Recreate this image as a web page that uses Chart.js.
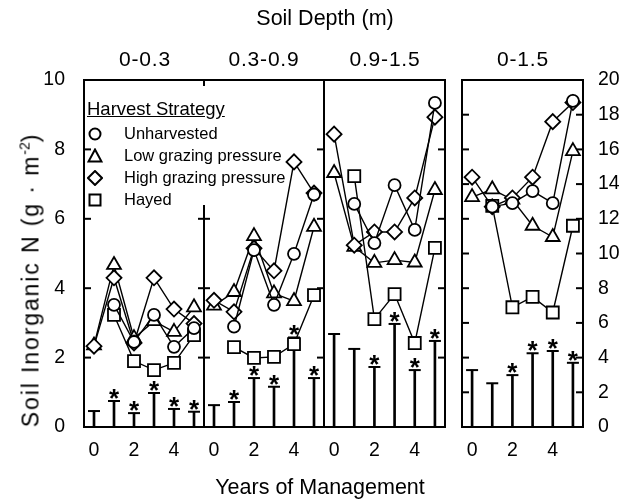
<!DOCTYPE html>
<html>
<head>
<meta charset="utf-8">
<script src="https://cdn.jsdelivr.net/npm/chart.js@4.4.1/dist/chart.umd.min.js"></script>
<style>
  body { margin: 0; background: #fff; }
  #wrap { position: relative; width: 619px; height: 501px; font-family: 'Liberation Sans', Arial, sans-serif; color: #000; }
  #wrap canvas { position: absolute; left: 0; top: 0; }
  .txt { position: absolute; white-space: nowrap; transform: translate(-50%, -50%); }
  .big { font-size: 21.5px; }
  .ttl { font-size: 21px; letter-spacing: 0.8px; }
  #ytitle { left: 31px; top: 280px; transform: translate(-50%, -50%) rotate(-90deg); font-size: 23px; letter-spacing: 1.9px; }
  #ytitle sup { font-size: 14px; vertical-align: 9px; line-height: 0; letter-spacing: 0; }
  #legend { position: absolute; left: 87px; top: 96px; width: 220px; white-space: nowrap; }
  #legend .head { font-size: 18.5px; text-decoration: underline; line-height: 26px; }
  #legend .row { position: relative; height: 22px; font-size: 16.5px; line-height: 22px; }
  #legend .row svg { position: absolute; left: 0; top: 4px; }
  #legend .row span { position: absolute; left: 37px; top: 0; white-space: nowrap; }
</style>
</head>
<body>
<div id="wrap">
  <canvas id="p0" width="619" height="501"></canvas>
  <canvas id="p1" width="619" height="501"></canvas>
  <canvas id="p2" width="619" height="501"></canvas>
  <canvas id="p3" width="619" height="501"></canvas>

  <div class="txt big" style="left:325px; top:18px;">Soil Depth (m)</div>
  <div class="txt ttl" style="left:145px; top:59px;">0-0.3</div>
  <div class="txt ttl" style="left:264px; top:59px;">0.3-0.9</div>
  <div class="txt ttl" style="left:385px; top:59px;">0.9-1.5</div>
  <div class="txt ttl" style="left:523px; top:59px;">0-1.5</div>
  <div class="txt big" style="left:320px; top:487px;">Years of Management</div>
  <div class="txt" id="ytitle">Soil Inorganic N (g · m<sup>-2</sup>)</div>

  <div id="legend">
    <div class="head">Harvest Strategy</div>
    <div class="row"><svg width="16" height="16"><circle cx="8" cy="8" r="5.5" fill="#fff" stroke="#000" stroke-width="2"/></svg><span>Unharvested</span></div>
    <div class="row"><svg width="16" height="16"><polygon points="8,1.5 14.5,13.5 1.5,13.5" fill="#fff" stroke="#000" stroke-width="2"/></svg><span>Low grazing pressure</span></div>
    <div class="row"><svg width="16" height="16"><polygon points="8,1 15,8 8,15 1,8" fill="#fff" stroke="#000" stroke-width="2"/></svg><span>High grazing pressure</span></div>
    <div class="row"><svg width="16" height="16"><rect x="2.5" y="2.5" width="11" height="11" fill="#fff" stroke="#000" stroke-width="2"/></svg><span>Hayed</span></div>
  </div>
</div>

<script>
// years of management (x) and soil depth panels
const years = [0, 1, 2, 3, 4, 5];
const depths = ['0-0.3', '0.3-0.9', '0.9-1.5', '0-1.5'];
const xTickLabels = [0, 2, 4];

// soil inorganic N (g m-2), one row per depth panel; last panel is on the 0-20 axis
const unharvested = [
    [null, 3.52, 2.45, 3.23, 2.31, 2.85],
    [null, 2.89, 5.10, 3.52, 4.99, 6.70],
    [null, 6.43, 5.30, 6.97, 5.68, 9.34],
    [null, 12.7, 12.9, 13.6, 12.9, 18.8]
];
const lowGrazing = [
    [2.35, 4.67, 2.56, 3.05, 2.74, 3.45],
    [3.50, 3.89, 5.50, 3.85, 3.63, 5.77],
    [7.32, 5.19, 4.73, 4.81, 4.74, 6.83],
    [13.25, 13.7, 13.1, 11.6, 10.95, 15.9]
];
const highGrazing = [
    [2.33, 4.30, 2.42, 4.30, 3.40, 2.98],
    [3.65, 3.32, 5.15, 4.50, 7.64, 6.74],
    [8.44, 5.24, 5.62, 5.62, 6.60, 8.93],
    [14.4, 12.7, 13.2, 14.4, 17.6, 18.7]
];
const hayed = [
    [null, 3.23, 1.90, 1.64, 1.85, 2.65],
    [null, 2.30, 1.99, 2.02, 2.39, 3.80],
    [null, 7.23, 3.11, 3.83, 2.42, 5.16],
    [null, 12.75, 6.90, 7.50, 6.60, 11.6]
];
// LSD bars and whether the difference is significant (asterisk)
const lsd = [
    [0.46, 0.75, 0.40, 0.98, 0.52, 0.44],
    [0.63, 0.72, 1.41, 1.16, 2.58, 1.41],
    [2.68, 2.25, 1.73, 2.97, 1.64, 2.48],
    [3.28, 2.52, 2.99, 4.25, 4.38, 3.70]
];
const significant = [
    [0, 1, 1, 1, 1, 1],
    [0, 1, 1, 1, 1, 1],
    [0, 0, 1, 1, 1, 1],
    [0, 0, 1, 1, 1, 1]
];

Chart.defaults.font.family = "'Liberation Sans', Arial, sans-serif";
Chart.defaults.font.size = 19.5;
Chart.defaults.color = '#000';

// panel frames with inward tick marks
const framePlugin = {
    id: 'frame',
    beforeDatasetsDraw(chart, args, o) {
        const { ctx, chartArea: a } = chart;
        const y = chart.scales.y;
        const tickVals = y.ticks.map(t => t.value).filter(v => v > y.min && v < y.max);
        const line = (x1, y1, x2, y2) => {
            ctx.beginPath(); ctx.moveTo(x1, y1); ctx.lineTo(x2, y2); ctx.stroke();
        };
        ctx.save();
        ctx.strokeStyle = '#000';
        ctx.lineWidth = 2;
        ctx.lineCap = 'square';
        if (o.top) line(a.left, a.top, a.right, a.top);
        if (o.bottom) line(a.left, a.bottom, a.right, a.bottom);
        if (o.left) line(a.left, a.top, a.left, a.bottom);
        if (o.right) line(a.right, a.top, a.right, a.bottom);
        ctx.lineCap = 'butt';
        if (o.leftTicks) tickVals.forEach(v => { const p = y.getPixelForValue(v); line(a.left, p, a.left + 7, p); });
        if (o.rightTicks) tickVals.forEach(v => { const p = y.getPixelForValue(v); line(a.right - 7, p, a.right, p); });
        if (o.split) {
            const from = y.getPixelForValue(o.split);
            line(a.right, from, a.right, a.bottom);
            line(a.right, a.top, a.right, a.top + 6);
            tickVals.filter(v => v < o.split).forEach(v => {
                const p = y.getPixelForValue(v); line(a.right - 6, p, a.right + 6, p);
            });
        }
        ctx.restore();
    }
};

// asterisks above significant LSD bars
const starPlugin = {
    id: 'stars',
    afterDatasetsDraw(chart, args, o) {
        const { ctx } = chart;
        const { x, y } = chart.scales;
        ctx.save();
        ctx.font = "bold 26px 'Liberation Sans', Arial, sans-serif";
        ctx.textAlign = 'center';
        ctx.textBaseline = 'alphabetic';
        ctx.fillStyle = '#000';
        o.values.forEach((v, i) => {
            if (!o.flags[i]) return;
            ctx.fillText('*', x.getPixelForValue(years[i]), y.getPixelForValue(v) + 6);
        });
        ctx.restore();
    }
};

function series(label, values, style, radius, order) {
    return {
        type: 'line',
        label: label,
        data: years.map((yr, i) => ({ x: yr, y: values[i] })),
        borderColor: '#000',
        borderWidth: 1.4,
        pointStyle: style,
        pointRadius: radius,
        pointBorderWidth: 1.8,
        pointBackgroundColor: '#fff',
        pointBorderColor: '#000',
        spanGaps: false,
        order: order,
        clip: false
    };
}

function makePanel(idx, area, yMax, yAxis, frame) {
    const datasets = [
        series('Unharvested', unharvested[idx], 'circle', 6, 0),
        series('Low grazing pressure', lowGrazing[idx], 'triangle', 8, 2),
        series('High grazing pressure', highGrazing[idx], 'rectRot', 7.5, 1),
        series('Hayed', hayed[idx], 'rect', 8.5, 3),
        {
            type: 'bar',
            label: 'LSD',
            data: years.map((yr, i) => ({ x: yr, y: lsd[idx][i] })),
            backgroundColor: '#000',
            borderWidth: 0,
            barThickness: 2,
            order: 10
        },
        {
            type: 'line',
            label: 'LSD cap',
            data: years.map((yr, i) => ({ x: yr, y: lsd[idx][i] })),
            showLine: false,
            pointStyle: 'line',
            pointRadius: 6,
            pointBorderWidth: 2,
            pointBorderColor: '#000',
            order: 9
        }
    ];

    const yScale = {
        type: 'linear',
        min: 0,
        max: yMax,
        position: yAxis.position,
        grid: { display: false },
        border: { display: false },
        ticks: { stepSize: 2, display: yAxis.labels, padding: yAxis.padding || 0 },
        afterFit: s => { s.width = yAxis.width; }
    };

    // axis boxes take their width out of the padding
    const padLeft = yAxis.position === 'left' ? area.left - yAxis.width : area.left;
    const padRight = yAxis.position === 'right' ? 619 - area.right - yAxis.width : 619 - area.right;

    new Chart(document.getElementById('p' + idx), {
        type: 'line',
        data: { datasets: datasets },
        options: {
            responsive: false,
            animation: false,
            layout: { padding: { left: Math.max(padLeft, 0), right: Math.max(padRight, 0), top: 80, bottom: 0 } },
            scales: {
                x: {
                    type: 'linear',
                    min: -0.5,
                    max: 5.5,
                    offset: false,
                    grid: { display: false, offset: false },
                    border: { display: false },
                    ticks: { padding: 4 },
                    afterBuildTicks: s => { s.ticks = xTickLabels.map(v => ({ value: v })); },
                    afterFit: s => { s.height = 501 - 427; }
                },
                y: yScale
            },
            plugins: {
                legend: { display: false },
                tooltip: { enabled: false },
                frame: frame,
                stars: { values: lsd[idx], flags: significant[idx] }
            }
        },
        plugins: [framePlugin, starPlugin]
    });
}

makePanel(0, { left: 84, right: 204 }, 10,
    { position: 'left', labels: true, width: 84, padding: 11 },
    { top: true, bottom: true, left: true, leftTicks: true, split: 6.4 });
makePanel(1, { left: 204, right: 324 }, 10,
    { position: 'left', labels: false, width: 0 },
    { top: true, bottom: true, right: true, rightTicks: true });
makePanel(2, { left: 324, right: 445 }, 10,
    { position: 'left', labels: false, width: 0 },
    { top: true, bottom: true, right: true, rightTicks: true });
makePanel(3, { left: 462, right: 583 }, 20,
    { position: 'right', labels: true, width: 36, padding: 7 },
    { top: true, bottom: true, left: true, right: true, leftTicks: true, rightTicks: true });
</script>
</body>
</html>
